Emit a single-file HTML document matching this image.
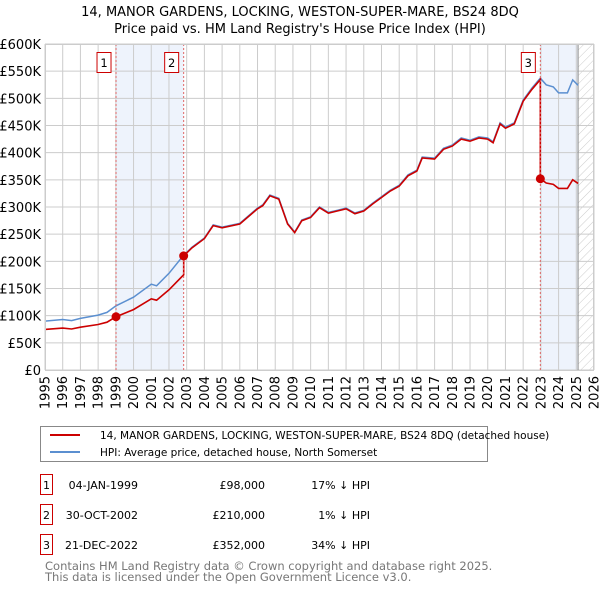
<!DOCTYPE html>
<html><head><meta charset="utf-8"><style>
body{margin:0;background:#fff;font-family:"Liberation Sans","DejaVu Sans",sans-serif;}
svg text{font-family:"DejaVu Sans","Liberation Sans",sans-serif;}
</style></head><body>
<svg id="chart" width="600" height="590" xmlns="http://www.w3.org/2000/svg">
<defs><pattern id="hatch" width="6" height="6" patternUnits="userSpaceOnUse" patternTransform="rotate(45)"><line x1="0" y1="0" x2="0" y2="6" stroke="#ccc" stroke-width="1"/></pattern></defs>
<text x="300" y="16" text-anchor="middle" font-size="13" fill="#000">14, MANOR GARDENS, LOCKING, WESTON-SUPER-MARE, BS24 8DQ</text>
<text x="300" y="33" text-anchor="middle" font-size="13" fill="#000">Price paid vs. HM Land Registry's House Price Index (HPI)</text>
<g id="plot"></g>
<g>
<rect x="40.5" y="426.5" width="447" height="35" fill="#fff" stroke="#888"/>
<line x1="50" y1="435" x2="80" y2="435" stroke="#cc0000" stroke-width="2"/>
<text x="100" y="439" font-size="10.5">14, MANOR GARDENS, LOCKING, WESTON-SUPER-MARE, BS24 8DQ (detached house)</text>
<line x1="50" y1="452" x2="80" y2="452" stroke="#5b8fd0" stroke-width="2"/>
<text x="100" y="456" font-size="10.5">HPI: Average price, detached house, North Somerset</text>
</g>
<g id="table" font-size="11"></g>
<text x="45" y="570" font-size="11.5" fill="#777">Contains HM Land Registry data © Crown copyright and database right 2025.</text>
<text x="45" y="581" font-size="11.5" fill="#777">This data is licensed under the Open Government Licence v3.0.</text>
</svg>
<script>
const hpiYears=[1995,1996,1996.5,1997,1998,1998.5,1999,2000,2001,2001.3,2002,2002.8,2003.3,2004,2004.5,2005,2006,2007,2007.3,2007.7,2008.2,2008.7,2009.1,2009.5,2010,2010.5,2011,2011.5,2012,2012.5,2013,2013.5,2014,2014.5,2015,2015.5,2016,2016.3,2017,2017.5,2018,2018.5,2019,2019.5,2020,2020.3,2020.7,2021,2021.5,2022,2022.5,2022.97,2023.3,2023.7,2024,2024.5,2024.8,2025.1];
const hpiValues=[90,93,91,95,101,106,118,134,158,155,178,210,226,243,267,263,270,298,304,322,316,270,254,276,282,300,290,294,298,289,294,307,319,331,340,359,368,392,390,408,414,427,423,429,427,420,455,447,455,497,519,537,525,521,510,510,534,524];
const saleLabels=["1","2","3"];
const saleYears=[1999.01,2002.83,2022.97];
const salePrices=[98,210,352];
const saleDates=["04-JAN-1999","30-OCT-2002","21-DEC-2022"];
const salePriceText=["£98,000","£210,000","£352,000"];
const saleHpiText=["17% ↓ HPI","1% ↓ HPI","34% ↓ HPI"];
const yTicks=[0,50,100,150,200,250,300,350,400,450,500,550,600];
const xTicks=[1995,1996,1997,1998,1999,2000,2001,2002,2003,2004,2005,2006,2007,2008,2009,2010,2011,2012,2013,2014,2015,2016,2017,2018,2019,2020,2021,2022,2023,2024,2025,2026];

const NS="http://www.w3.org/2000/svg";
const X0=45,X1=594,Y0=370,Y1=44;
const xs=y=>X0+(y-1995)/31*(X1-X0);
const ys=v=>Y0-v/600*(Y0-Y1);
const plot=document.getElementById('plot');
function mk(tag,attrs,parent){const e=document.createElementNS(NS,tag);for(const k in attrs)e.setAttribute(k,attrs[k]);(parent||plot).appendChild(e);return e;}
function hpiAt(t){for(let i=1;i<hpiYears.length;i++){if(t<=hpiYears[i]){const f=(t-hpiYears[i-1])/(hpiYears[i]-hpiYears[i-1]);return hpiValues[i-1]+f*(hpiValues[i]-hpiValues[i-1]);}}return hpiValues[hpiValues.length-1];}
const endYear=hpiYears[hpiYears.length-1];

let el;
el=mk('rect',{x:X0,y:Y1,width:X1-X0,height:Y0-Y1,fill:'#fff'});


el=mk('rect',{x:xs(saleYears[0]),y:Y1,width:xs(saleYears[1])-xs(saleYears[0]),height:Y0-Y1,fill:'#eef3fc'});


el=mk('rect',{x:xs(saleYears[2]),y:Y1,width:xs(endYear)-xs(saleYears[2]),height:Y0-Y1,fill:'#eef3fc'});


el=mk('rect',{x:xs(endYear),y:Y1,width:X1-xs(endYear),height:Y0-Y1,fill:'url(#hatch)'});



yTicks.forEach(v=>{
 el=mk('line',{x1:X0,x2:X1,y1:ys(v),y2:ys(v),stroke:'#ccc','stroke-width':1});
 
 
 el=mk('text',{x:41,y:ys(v)+5,'text-anchor':'end','font-size':13});
 el.textContent=v===0?'£0':'£'+v+'K';
 
 
});
xTicks.forEach(t=>{
 el=mk('line',{x1:xs(t),x2:xs(t),y1:Y1,y2:Y0,stroke:'#ccc','stroke-width':1});
 
 
 const lx=xs(t)+4.5, ly=376;
 el=mk('text',{x:lx,y:ly,'text-anchor':'end','font-size':13,transform:'rotate(-90 '+lx+' '+ly+')'});
 el.textContent=t;
 
 
});
el=mk('line',{x1:xs(endYear),x2:xs(endYear),y1:Y1,y2:Y0,stroke:'#888','stroke-width':1});



let d=hpiYears.map((t,i)=>(i?'L':'M')+xs(t).toFixed(1)+','+ys(hpiValues[i]).toFixed(1)).join(' ');
el=mk('path',{d:d,fill:'none',stroke:'#5b8fd0','stroke-width':1.5});



function ratioAt(t){let r=salePrices[0]/hpiAt(saleYears[0]);for(let i=0;i<saleYears.length;i++){if(t>=saleYears[i])r=salePrices[i]/hpiAt(saleYears[i]);}return r;}
const pts=[];
const ts=hpiYears.concat(saleYears).sort((a,b)=>a-b);
ts.forEach(t=>{
 const si=saleYears.indexOf(t);
 if(si>0){pts.push([t,hpiAt(t)*salePrices[si-1]/hpiAt(saleYears[si-1])]);}
 pts.push([t,hpiAt(t)*ratioAt(t)]);
});
d=pts.map((p,i)=>(i?'L':'M')+xs(p[0]).toFixed(1)+','+ys(p[1]).toFixed(1)).join(' ');
el=mk('path',{d:d,fill:'none',stroke:'#cc0000','stroke-width':1.6});



saleYears.forEach((t,i)=>{
 el=mk('line',{x1:xs(t),x2:xs(t),y1:Y1,y2:Y0,stroke:'#e06666','stroke-width':1,'stroke-dasharray':'2,2'});
 
 
 el=mk('circle',{cx:xs(t),cy:ys(salePrices[i]),r:4.5,fill:'#cc0000'});
 
 
 el=mk('rect',{x:xs(t)-19,y:52.5,width:14,height:20,fill:'#fff',stroke:'#cc0000'});
 
 
 el=mk('text',{x:xs(t)-12,y:67,'text-anchor':'middle','font-size':11.5});
 el.textContent=saleLabels[i];
 
 
});
el=mk('rect',{x:X0+0.5,y:Y1+0.5,width:X1-X0-1,height:Y0-Y1,fill:'none',stroke:'#ccc'});



const tbl=document.getElementById('table');
saleLabels.forEach((l,i)=>{
 const y=487+i*30;
 el=mk('rect',{x:40.5,y:y-12.5,width:12,height:20,fill:'#fff',stroke:'#cc0000'},tbl);
 
 
 el=mk('text',{x:46.5,y:y+2,'text-anchor':'middle'},tbl);el.textContent=l;
 
 
 el=mk('text',{x:138,y:y+2,'text-anchor':'end'},tbl);el.textContent=saleDates[i];
 
 
 el=mk('text',{x:265,y:y+2,'text-anchor':'end'},tbl);el.textContent=salePriceText[i];
 
 
 el=mk('text',{x:370,y:y+2,'text-anchor':'end'},tbl);el.textContent=saleHpiText[i];
 
 
});
</script>
</body></html>
